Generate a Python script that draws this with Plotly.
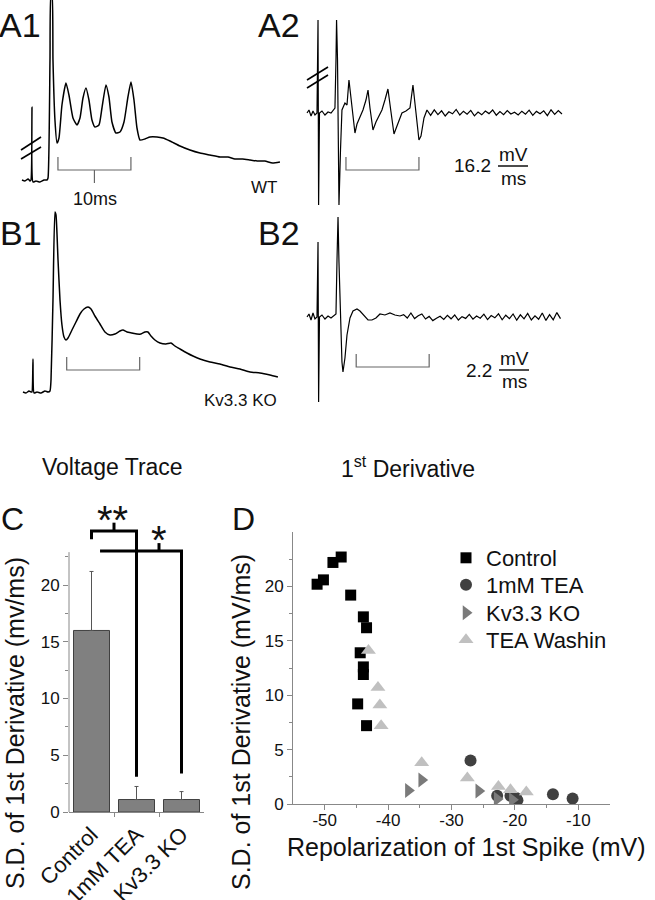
import plotly.graph_objects as go

FONT = "Liberation Sans, Arial, Helvetica, sans-serif"
W, H = 655, 900

# ---------------- Panel C : bar chart ----------------
groups = ["Control", "1mM TEA", "Kv3.3 KO"]
sd_mean = [16.0, 1.1, 1.1]
sd_err = [5.2, 1.15, 0.7]

# significance brackets (category index, mV/ms)
sig2_x = [0, 0, 1, 1]
sig2_y = [24.05, 24.76, 24.76, 3.1]
sig2_tick_x = [0.5, 0.5]
sig2_tick_y = [24.76, 25.5]
sig1_x = [0.19, 2, 2]
sig1_y = [23.0, 23.0, 3.4]
sig1_tick_x = [1.5, 1.5]
sig1_tick_y = [23.0, 23.7]

# ---------------- Panel D : scatter ----------------
ctrl_x = [-51.2, -50.2, -48.7, -47.4, -45.9, -43.9, -43.4, -44.4, -43.9, -43.9, -44.8, -43.4]
ctrl_y = [20.2, 20.6, 22.2, 22.7, 19.2, 17.2, 16.2, 13.9, 12.6, 11.9, 9.2, 7.2]
tea_x = [-27.0, -22.8, -20.7, -19.8, -19.6, -14.0, -10.9]
tea_y = [4.0, 0.75, 0.75, 0.55, 0.35, 0.9, 0.5]
ko_x = [-36.8, -34.7, -25.7, -22.8, -20.4]
ko_y = [1.25, 2.2, 1.2, 0.45, 0.4]
wash_x = [-43.1, -41.6, -41.3, -41.1, -34.7, -27.5, -22.6, -20.7, -18.2]
wash_y = [14.1, 10.7, 9.1, 7.2, 3.8, 2.4, 1.6, 1.3, 1.1]
d_xticks = [-50, -40, -30, -20, -10]
d_xticklabels = ["-50", "-40", "-30", "-20", "-10"]

# ---------------- A1 : WT voltage trace (ms, mV rel.) ----------------
a1_t = [0.27, 0.68, 1.10, 1.37, 1.51, 1.64, 1.78, 2.19, 2.74, 3.29, 3.70, 3.84, 4.11, 4.25, 4.38,
        4.52, 4.79, 5.07, 5.34, 5.75, 6.30, 6.71, 7.26, 7.81, 8.22, 8.63, 9.04, 9.45, 9.86, 10.27,
        10.82, 11.23, 11.78, 12.19, 12.60, 13.15, 13.70, 14.25, 14.79, 15.21, 15.62, 16.03, 16.44,
        17.12, 17.81, 18.77, 19.59, 20.55, 21.92, 23.29, 24.66, 26.03, 27.40, 28.5, 29.45, 30.5,
        31.51, 32.5, 33.56, 34.6, 35.62]
a1_v = [0, -0.5, 0.5, -0.5, 0, 36.5, -1, -0.5, -1, 0, 0, 1, 60, 92.5, 92.5,
        60, 30, 18.5, 21, 37.5, 48.5, 42.5, 31, 27.5, 31, 41, 46, 40, 30, 26.5,
        27.5, 36, 47.5, 41.5, 29, 23.5, 24, 29, 41.5, 49, 40, 26, 20,
        20.5, 21.5, 21.5, 21, 19.5, 17, 15, 13.5, 12.5, 11.5, 11.5, 10.5, 10.5,
        10, 9.5, 9.5, 8.5, 9]

# ---------------- A2 : WT first derivative ----------------
a2_t = [0.96, 1.23, 1.51, 1.78, 2.05, 2.33, 2.47, 2.55, 2.67, 3.01, 3.42, 3.84, 4.25, 4.52, 4.79,
        4.93, 5.01, 5.14, 5.34, 5.55, 5.75, 6.16, 6.44, 6.71, 7.12, 7.53, 7.81, 8.22, 8.63, 9.04,
        9.32, 9.59, 10.00, 10.41, 10.82, 11.23, 11.64, 12.05, 12.47, 12.88, 13.29, 13.97, 14.52,
        15.07, 15.48, 15.89, 16.30, 16.58, 16.99, 17.40,
        17.9, 18.4, 18.9, 19.4, 19.9, 20.4, 20.9, 21.4, 21.9, 22.4, 22.9, 23.4, 23.9, 24.4, 24.9,
        25.4, 25.9, 26.4, 26.9, 27.4, 27.9, 28.4, 28.9, 29.4, 29.9, 30.4, 30.9, 31.4, 31.9, 32.4,
        32.9, 33.4, 33.9, 34.4, 34.9, 35.4, 35.9]
a2_v = [0, 1.5, -1.5, 1, -1, 0, 46.5, -46, 0, 1, -1, 0.5, 0, 1.5, 2.5,
        26.5, 46.5, 26.5, -46, -18.5, 1.5, 5, 4, 16.5, 4, -10, -5.5, -2, 1.5, 6.5,
        11.5, 2.5, -8.5, -4.5, -1.5, 1.5, 6.5, 12, 0.5, -10.5, -6.5, 0, 1,
        2.5, 14, -1, -13.5, -11.5, -2.5, 1.5,
        -1.2, 1.6, -0.8, 1.1, -1.5, 0.6, -0.4, 1.8, -1.0, 0.9, -0.6, 1.3, -1.4, 0.5, -0.9,
        1.0, -0.3, 1.5, -1.1, 0.7, -0.8, 1.2, -0.5, 0.4, -1.0, 0.9, -0.6, 1.4, -1.2, 0.8,
        -0.4, 1.1, -1.3, 1.6, -0.7, 1.2, -0.5]

# ---------------- B1 : Kv3.3 KO voltage trace ----------------
b1_t = [0.41, 0.82, 1.23, 1.51, 1.64, 1.78, 1.92, 2.33, 2.88, 3.42, 3.84, 4.11, 4.25, 4.52, 4.79,
        4.93, 5.21, 5.48, 5.75, 6.03, 6.30, 6.58, 7.12, 7.67, 8.22, 8.77, 9.32, 9.73, 10.27, 10.96,
        11.64, 12.33, 13.01, 13.70, 14.11, 14.66, 15.34, 16.03, 16.58, 17.12, 17.53, 17.95, 18.49,
        19.18, 20.00, 20.68, 21.23, 21.92, 22.88, 23.70, 24.66, 26.03, 27.40, 28.77, 30.14, 31.51,
        32.88, 34.25, 35.34]
b1_v = [0, -0.5, 0.5, 0, 0, 16.5, -0.5, 0, -0.5, 0.5, 0, 0.5, 6, 46, 90,
        88.5, 66, 46, 33.5, 27.5, 26, 27, 31, 35, 39, 41.5, 42.5, 41.5, 38, 34,
        30, 28.5, 29, 30.5, 31, 30, 29.5, 29, 29, 30, 30, 28, 26,
        24.5, 24, 24.5, 23, 21.5, 19.5, 18, 16.5, 15, 14, 12.5, 11.5, 10,
        9.5, 8.5, 7.5]

# ---------------- B2 : Kv3.3 KO first derivative ----------------
b2_t = [0.96, 1.23, 1.51, 1.78, 2.05, 2.33, 2.47, 2.55, 2.67, 3.01, 3.42, 3.84, 4.25, 4.66, 4.93,
        5.07, 5.21, 5.34, 5.55, 5.75, 5.89, 6.16, 6.44, 6.85, 7.26, 7.81, 8.22, 8.77, 9.32, 9.86,
        10.41, 10.96, 11.64, 12.33, 13.01, 13.70,
        14.2, 14.7, 15.2, 15.7, 16.2, 16.7, 17.2, 17.7, 18.2, 18.7, 19.2, 19.7, 20.2, 20.7, 21.2,
        21.7, 22.2, 22.7, 23.2, 23.7, 24.2, 24.7, 25.2, 25.7, 26.2, 26.7, 27.2, 27.7, 28.2, 28.7,
        29.2, 29.7, 30.2, 30.7, 31.2, 31.7, 32.2, 32.7, 33.2, 33.7, 34.2, 34.7, 35.2, 35.7]
b2_v = [0, 1.5, -1.5, 2, -1, 0, 37.5, -42.5, 0, 1, -1, 0.5, -0.5, 0.5, 1.5,
        28.5, 50, 27.5, -6.5, -22.5, -27.5, -20.5, -9, -0.5, 3, 4, 3, 0.5, -1.5, -1.5,
        -0.5, 1.5, 1, 2, 1, 0.5,
        1.2, -0.5, 2.0, -0.8, 0.6, 1.5, -1.0, 0.3, -1.8, -0.6, 0.4, -1.2, 0.8, -0.9, 1.0,
        -1.5, 0.2, -0.7, 1.3, -1.1, 0.5, -0.6, 1.4, -1.3, 0.7, -0.4, 1.6, -1.4, 0.9, -0.8,
        1.5, -1.6, 1.1, -0.9, 1.8, -1.5, 0.6, -1.1, 2.0, -1.7, 1.2, -1.4, 2.2, -0.8]

# scale bars (10 ms) and axis-break marks
a1_bar_t = [5.2, 5.2, 15.2, 15.2]
a1_bar_v = [11.5, 5, 5, 11.5]
a1_barmid_t = [10.2, 10.2]
a1_barmid_v = [5, -1.5]
a2_bar_t = [6.3, 6.3, 16.3, 16.3]
a2_bar_v = [-22, -28.5, -28.5, -22]
b1_bar_t = [6.4, 6.4, 16.4, 16.4]
b1_bar_v = [17.5, 11, 11, 17.5]
b2_bar_t = [7.7, 7.7, 17.7, 17.7]
b2_bar_v = [-18.5, -25, -25, -18.5]
a1_brk_t = [[0.14, 2.88], [0.14, 2.88]]
a1_brk_v = [[15, 21.5], [10.5, 16.5]]
a2_brk_t = [[0.96, 3.84], [0.96, 3.84]]
a2_brk_v = [[16.5, 23], [12.5, 19]]


def P(px):
    return px / W


def Q(py):
    return 1 - py / H


fig = go.Figure()


def line(t, v, ax, color="black", width=1.4, shape="linear"):
    fig.add_trace(go.Scatter(x=t, y=v, mode="lines", xaxis="x" + ax, yaxis="y" + ax,
                             line=dict(color=color, width=width, shape=shape, smoothing=0.5),
                             showlegend=False, hoverinfo="skip"))


line(a1_t, a1_v, "3", width=1.5, shape="spline")
line(a2_t, a2_v, "4", width=1.2)
line(b1_t, b1_v, "5", width=1.5, shape="spline")
line(b2_t, b2_v, "6", width=1.2)
line(a1_bar_t, a1_bar_v, "3", "#666", 1.2)
line(a1_barmid_t, a1_barmid_v, "3", "#666", 1.2)
line(a2_bar_t, a2_bar_v, "4", "#666", 1.2)
line(b1_bar_t, b1_bar_v, "5", "#666", 1.2)
line(b2_bar_t, b2_bar_v, "6", "#666", 1.2)
for tt, vv in zip(a1_brk_t, a1_brk_v):
    line(tt, vv, "3", "black", 1.6)
for tt, vv in zip(a2_brk_t, a2_brk_v):
    line(tt, vv, "4", "black", 1.6)

# ---- panel C
fig.add_trace(go.Bar(x=[0, 1, 2], y=sd_mean, width=0.8, xaxis="x", yaxis="y",
                     marker=dict(color="#808080", line=dict(color="#404040", width=1)),
                     error_y=dict(type="data", array=sd_err, arrayminus=[0, 0, 0], symmetric=False,
                                  color="#555555", thickness=1, width=2),
                     showlegend=False))
for xx, yy in [(sig2_x, sig2_y), (sig2_tick_x, sig2_tick_y), (sig1_x, sig1_y), (sig1_tick_x, sig1_tick_y)]:
    fig.add_trace(go.Scatter(x=xx, y=yy, mode="lines", xaxis="x", yaxis="y",
                             line=dict(color="black", width=3), showlegend=False))

# ---- panel D (each series gets its own one-item legend so spacing matches)
fig.add_trace(go.Scatter(x=ctrl_x, y=ctrl_y, mode="markers", name="Control", xaxis="x2", yaxis="y2",
                         legend="legend", marker=dict(symbol="square", size=11, color="black")))
fig.add_trace(go.Scatter(x=tea_x, y=tea_y, mode="markers", name="1mM TEA", xaxis="x2", yaxis="y2",
                         legend="legend2", marker=dict(symbol="circle", size=12, color="#404040")))
fig.add_trace(go.Scatter(x=ko_x, y=ko_y, mode="markers", name="Kv3.3 KO", xaxis="x2", yaxis="y2",
                         legend="legend3", marker=dict(symbol="triangle-right", size=13, color="#7a7a7a")))
fig.add_trace(go.Scatter(x=wash_x, y=wash_y, mode="markers", name="TEA Washin", xaxis="x2", yaxis="y2",
                         legend="legend4", marker=dict(symbol="triangle-up", size=13, color="#c0c0c0")))

AX = "#888888"
hidden = dict(visible=False, showgrid=False, zeroline=False, fixedrange=True, automargin=False)


def leg(py):
    return dict(x=P(446), y=Q(py), xanchor="left", yanchor="middle",
                font=dict(size=22, color="#111", family=FONT),
                bgcolor="rgba(0,0,0,0)", itemwidth=30)


layout = dict(
    width=W, height=H, margin=dict(l=0, r=0, t=0, b=0, autoexpand=False),
    paper_bgcolor="white", plot_bgcolor="rgba(0,0,0,0)",
    font=dict(family=FONT, color="#111111"),
    showlegend=True,
    legend=leg(558), legend2=leg(585), legend3=leg(613), legend4=leg(640),
    xaxis=dict(domain=[P(69), P(204)], range=[-0.5, 2.5], anchor="y", automargin=False,
               tickvals=[0, 1, 2], ticktext=groups, tickangle=-45, ticks="",
               tickfont=dict(size=22, color="#111"), showline=True, linecolor=AX, linewidth=1,
               showgrid=False, zeroline=False,
               minor=dict(tickmode="array", tickvals=[0.5, 1.5], ticks="outside", ticklen=4, tickcolor=AX)),
    yaxis=dict(domain=[Q(812), Q(517)], range=[0, 26], anchor="x", automargin=False,
               tickvals=[0, 5, 10, 15, 20], ticks="outside", ticklen=5, tickcolor=AX,
               tickfont=dict(size=17, color="#111"), showline=False, showgrid=False, zeroline=False,
               minor=dict(tickmode="array", tickvals=[2.5, 7.5, 12.5, 17.5, 22.5], ticks="outside",
                          ticklen=3, tickcolor=AX)),
    xaxis2=dict(domain=[P(293), P(610)], range=[-55, -5], anchor="y2", automargin=False,
                tickvals=d_xticks, ticktext=d_xticklabels, ticks="outside", ticklen=5, tickcolor=AX,
                ticklabelstandoff=-4,
                tickfont=dict(size=17, color="#111"), showline=True, linecolor=AX, linewidth=1,
                showgrid=False, zeroline=False,
                minor=dict(tickmode="array", tickvals=[-45, -35, -25, -15], ticks="outside",
                           ticklen=3, tickcolor=AX)),
    yaxis2=dict(domain=[Q(804), Q(532)], range=[0, 25], anchor="x2", automargin=False,
                tickvals=[0, 5, 10, 15, 20], ticks="outside", ticklen=5, tickcolor=AX,
                tickfont=dict(size=17, color="#111"), showline=True, linecolor=AX, linewidth=1,
                showgrid=False, zeroline=False,
                minor=dict(tickmode="array", tickvals=[2.5, 7.5, 12.5, 17.5, 22.5], ticks="outside",
                           ticklen=3, tickcolor=AX)),
    xaxis3=dict(domain=[P(20), P(290)], range=[0, 37], anchor="y3", **hidden),
    yaxis3=dict(domain=[Q(200), Q(0)], range=[-10, 90], anchor="x3", **hidden),
    xaxis4=dict(domain=[P(300), P(570)], range=[0, 37], anchor="y4", **hidden),
    yaxis4=dict(domain=[Q(210), Q(0)], range=[-48.5, 56.5], anchor="x4", **hidden),
    xaxis5=dict(domain=[P(20), P(290)], range=[0, 37], anchor="y5", **hidden),
    yaxis5=dict(domain=[Q(410), Q(205)], range=[-9, 93.5], anchor="x5", **hidden),
    xaxis6=dict(domain=[P(300), P(570)], range=[0, 37], anchor="y6", **hidden),
    yaxis6=dict(domain=[Q(410), Q(205)], range=[-46.5, 56], anchor="x6", **hidden),
)
fig.update_layout(**layout)

# C y-axis line (stops below the significance brackets)
fig.add_shape(type="line", xref="x domain", x0=0, x1=0, yref="y", y0=0, y1=22.9,
              line=dict(color=AX, width=1))

# fraction bars for units
fig.add_shape(type="line", xref="paper", yref="paper", x0=P(498), x1=P(528), y0=Q(166), y1=Q(166),
              line=dict(color="#111", width=1.5))
fig.add_shape(type="line", xref="paper", yref="paper", x0=P(499), x1=P(529), y0=Q(370), y1=Q(370),
              line=dict(color="#111", width=1.5))


def txt(s, px, py, size, angle=0, anchor="center"):
    fig.add_annotation(text=s, x=P(px), y=Q(py), xref="paper", yref="paper", showarrow=False,
                       xanchor=anchor, yanchor="middle", textangle=angle,
                       font=dict(size=size, family=FONT, color="#111"))


txt("A1", 20, 25, 34)
txt("A2", 279, 25, 34)
txt("B1", 21, 233, 34)
txt("B2", 279, 233, 34)
txt("C", 12, 519, 32)
txt("D", 243, 519, 32)
txt("WT", 264, 187, 17)
txt("10ms", 95, 199, 18)
txt("Kv3.3 KO", 240, 400, 17)
txt("16.2", 472, 166, 19)
txt("mV", 513, 154, 19)
txt("ms", 513, 178, 19)
txt("2.2", 479, 370, 19)
txt("mV", 514, 359, 19)
txt("ms", 514, 382, 19)
txt("Voltage Trace", 112, 467, 23)
txt("1<sup>st</sup> Derivative", 408, 467, 23)
txt("S.D. of 1st Derivative (mv/ms)", 15, 723, 25, angle=-90)
txt("S.D. of 1st Derivative (mV/ms)", 241, 722, 25, angle=-90)
txt("Repolarization of 1st Spike (mV)", 466, 847, 25)
txt("**", 113, 520, 40)
txt("*", 159, 540, 40)

fig.write_html("out.html", config={"displayModeBar": False},
               post_script="document.body.style.margin='0px';document.body.style.overflow='hidden';")
